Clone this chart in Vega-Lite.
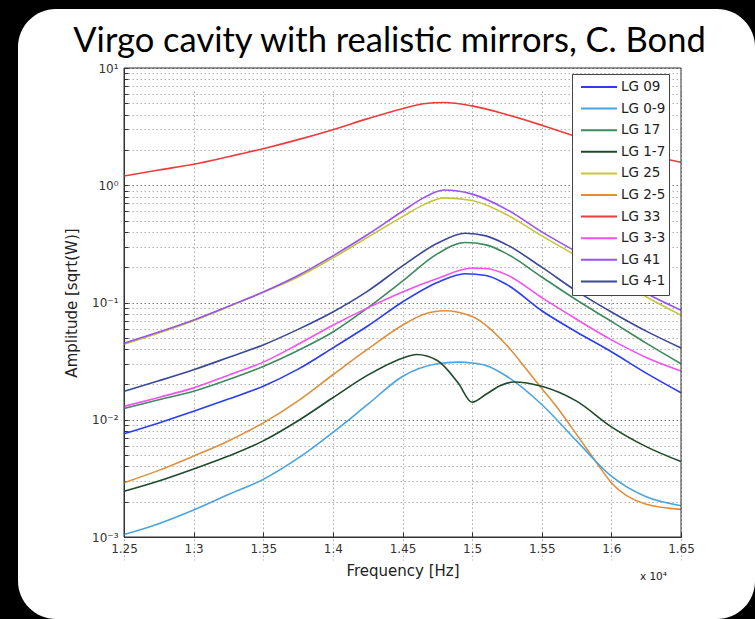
{
  "$schema": "https://vega.github.io/schema/vega-lite/v6.json",
  "autosize": {"type": "none"},
  "padding": {"left": 18, "top": 9, "right": 0, "bottom": 0},
  "width": 737,
  "height": 610,
  "background": "black",
  "title": {
    "text": "Virgo cavity with realistic mirrors, C. Bond",
    "font": "Lato",
    "fontSize": 34.5,
    "fontWeight": "normal",
    "color": "black",
    "anchor": "middle",
    "frame": "group",
    "baseline": "alphabetic",
    "offset": -77,
    "dx": 3
  },
  "datasets": {
    "curves": [
      {"f":1.25,"a":1.2,"s":"LG 33"},{"f":1.275,"a":1.35,"s":"LG 33"},{"f":1.3,"a":1.51,"s":"LG 33"},{"f":1.325,"a":1.75,"s":"LG 33"},{"f":1.35,"a":2.05,"s":"LG 33"},{"f":1.375,"a":2.45,"s":"LG 33"},{"f":1.4,"a":2.98,"s":"LG 33"},{"f":1.425,"a":3.7,"s":"LG 33"},{"f":1.45,"a":4.5,"s":"LG 33"},{"f":1.465,"a":4.95,"s":"LG 33"},{"f":1.48,"a":5.08,"s":"LG 33"},{"f":1.5,"a":4.75,"s":"LG 33"},{"f":1.525,"a":4.0,"s":"LG 33"},{"f":1.55,"a":3.25,"s":"LG 33"},{"f":1.575,"a":2.6,"s":"LG 33"},{"f":1.6,"a":2.15,"s":"LG 33"},{"f":1.625,"a":1.82,"s":"LG 33"},{"f":1.65,"a":1.57,"s":"LG 33"},
      {"f":1.25,"a":0.044,"s":"LG 25"},{"f":1.275,"a":0.055,"s":"LG 25"},{"f":1.3,"a":0.07,"s":"LG 25"},{"f":1.325,"a":0.092,"s":"LG 25"},{"f":1.35,"a":0.122,"s":"LG 25"},{"f":1.375,"a":0.165,"s":"LG 25"},{"f":1.4,"a":0.24,"s":"LG 25"},{"f":1.425,"a":0.36,"s":"LG 25"},{"f":1.45,"a":0.54,"s":"LG 25"},{"f":1.465,"a":0.68,"s":"LG 25"},{"f":1.48,"a":0.78,"s":"LG 25"},{"f":1.5,"a":0.74,"s":"LG 25"},{"f":1.525,"a":0.56,"s":"LG 25"},{"f":1.55,"a":0.37,"s":"LG 25"},{"f":1.575,"a":0.25,"s":"LG 25"},{"f":1.6,"a":0.17,"s":"LG 25"},{"f":1.625,"a":0.112,"s":"LG 25"},{"f":1.65,"a":0.078,"s":"LG 25"},
      {"f":1.25,"a":0.045,"s":"LG 41"},{"f":1.275,"a":0.056,"s":"LG 41"},{"f":1.3,"a":0.071,"s":"LG 41"},{"f":1.325,"a":0.093,"s":"LG 41"},{"f":1.35,"a":0.123,"s":"LG 41"},{"f":1.375,"a":0.17,"s":"LG 41"},{"f":1.4,"a":0.25,"s":"LG 41"},{"f":1.425,"a":0.38,"s":"LG 41"},{"f":1.45,"a":0.6,"s":"LG 41"},{"f":1.465,"a":0.78,"s":"LG 41"},{"f":1.48,"a":0.91,"s":"LG 41"},{"f":1.5,"a":0.84,"s":"LG 41"},{"f":1.525,"a":0.62,"s":"LG 41"},{"f":1.55,"a":0.4,"s":"LG 41"},{"f":1.575,"a":0.27,"s":"LG 41"},{"f":1.6,"a":0.18,"s":"LG 41"},{"f":1.625,"a":0.12,"s":"LG 41"},{"f":1.65,"a":0.086,"s":"LG 41"},
      {"f":1.25,"a":0.0175,"s":"LG 4-1"},{"f":1.275,"a":0.0215,"s":"LG 4-1"},{"f":1.3,"a":0.0267,"s":"LG 4-1"},{"f":1.325,"a":0.034,"s":"LG 4-1"},{"f":1.35,"a":0.0435,"s":"LG 4-1"},{"f":1.375,"a":0.059,"s":"LG 4-1"},{"f":1.4,"a":0.083,"s":"LG 4-1"},{"f":1.425,"a":0.125,"s":"LG 4-1"},{"f":1.45,"a":0.205,"s":"LG 4-1"},{"f":1.475,"a":0.32,"s":"LG 4-1"},{"f":1.495,"a":0.39,"s":"LG 4-1"},{"f":1.51,"a":0.37,"s":"LG 4-1"},{"f":1.525,"a":0.31,"s":"LG 4-1"},{"f":1.55,"a":0.2,"s":"LG 4-1"},{"f":1.575,"a":0.125,"s":"LG 4-1"},{"f":1.6,"a":0.083,"s":"LG 4-1"},{"f":1.625,"a":0.057,"s":"LG 4-1"},{"f":1.65,"a":0.041,"s":"LG 4-1"},
      {"f":1.25,"a":0.0125,"s":"LG 17"},{"f":1.275,"a":0.0148,"s":"LG 17"},{"f":1.3,"a":0.0175,"s":"LG 17"},{"f":1.325,"a":0.022,"s":"LG 17"},{"f":1.35,"a":0.0285,"s":"LG 17"},{"f":1.375,"a":0.039,"s":"LG 17"},{"f":1.4,"a":0.056,"s":"LG 17"},{"f":1.425,"a":0.09,"s":"LG 17"},{"f":1.45,"a":0.152,"s":"LG 17"},{"f":1.475,"a":0.26,"s":"LG 17"},{"f":1.495,"a":0.325,"s":"LG 17"},{"f":1.51,"a":0.31,"s":"LG 17"},{"f":1.525,"a":0.26,"s":"LG 17"},{"f":1.55,"a":0.165,"s":"LG 17"},{"f":1.575,"a":0.105,"s":"LG 17"},{"f":1.6,"a":0.069,"s":"LG 17"},{"f":1.625,"a":0.045,"s":"LG 17"},{"f":1.65,"a":0.03,"s":"LG 17"},
      {"f":1.25,"a":0.013,"s":"LG 3-3"},{"f":1.275,"a":0.0155,"s":"LG 3-3"},{"f":1.3,"a":0.0187,"s":"LG 3-3"},{"f":1.325,"a":0.024,"s":"LG 3-3"},{"f":1.35,"a":0.031,"s":"LG 3-3"},{"f":1.375,"a":0.044,"s":"LG 3-3"},{"f":1.4,"a":0.064,"s":"LG 3-3"},{"f":1.425,"a":0.09,"s":"LG 3-3"},{"f":1.45,"a":0.123,"s":"LG 3-3"},{"f":1.475,"a":0.16,"s":"LG 3-3"},{"f":1.5,"a":0.197,"s":"LG 3-3"},{"f":1.51,"a":0.195,"s":"LG 3-3"},{"f":1.525,"a":0.172,"s":"LG 3-3"},{"f":1.55,"a":0.11,"s":"LG 3-3"},{"f":1.575,"a":0.072,"s":"LG 3-3"},{"f":1.6,"a":0.048,"s":"LG 3-3"},{"f":1.625,"a":0.034,"s":"LG 3-3"},{"f":1.65,"a":0.026,"s":"LG 3-3"},
      {"f":1.25,"a":0.0076,"s":"LG 09"},{"f":1.275,"a":0.0094,"s":"LG 09"},{"f":1.3,"a":0.0118,"s":"LG 09"},{"f":1.325,"a":0.015,"s":"LG 09"},{"f":1.35,"a":0.0193,"s":"LG 09"},{"f":1.375,"a":0.027,"s":"LG 09"},{"f":1.4,"a":0.041,"s":"LG 09"},{"f":1.425,"a":0.063,"s":"LG 09"},{"f":1.45,"a":0.101,"s":"LG 09"},{"f":1.475,"a":0.148,"s":"LG 09"},{"f":1.495,"a":0.176,"s":"LG 09"},{"f":1.51,"a":0.17,"s":"LG 09"},{"f":1.525,"a":0.142,"s":"LG 09"},{"f":1.55,"a":0.085,"s":"LG 09"},{"f":1.575,"a":0.056,"s":"LG 09"},{"f":1.6,"a":0.038,"s":"LG 09"},{"f":1.625,"a":0.025,"s":"LG 09"},{"f":1.65,"a":0.017,"s":"LG 09"},
      {"f":1.25,"a":0.0029,"s":"LG 2-5"},{"f":1.275,"a":0.0037,"s":"LG 2-5"},{"f":1.3,"a":0.0049,"s":"LG 2-5"},{"f":1.325,"a":0.0066,"s":"LG 2-5"},{"f":1.35,"a":0.0094,"s":"LG 2-5"},{"f":1.375,"a":0.0145,"s":"LG 2-5"},{"f":1.4,"a":0.0242,"s":"LG 2-5"},{"f":1.425,"a":0.04,"s":"LG 2-5"},{"f":1.45,"a":0.064,"s":"LG 2-5"},{"f":1.465,"a":0.079,"s":"LG 2-5"},{"f":1.48,"a":0.085,"s":"LG 2-5"},{"f":1.5,"a":0.076,"s":"LG 2-5"},{"f":1.525,"a":0.043,"s":"LG 2-5"},{"f":1.54,"a":0.026,"s":"LG 2-5"},{"f":1.55,"a":0.0185,"s":"LG 2-5"},{"f":1.56,"a":0.0132,"s":"LG 2-5"},{"f":1.575,"a":0.0075,"s":"LG 2-5"},{"f":1.59,"a":0.0042,"s":"LG 2-5"},{"f":1.6,"a":0.0029,"s":"LG 2-5"},{"f":1.625,"a":0.0019,"s":"LG 2-5"},{"f":1.65,"a":0.00172,"s":"LG 2-5"},
      {"f":1.25,"a":0.00105,"s":"LG 0-9"},{"f":1.275,"a":0.0013,"s":"LG 0-9"},{"f":1.3,"a":0.0017,"s":"LG 0-9"},{"f":1.325,"a":0.0023,"s":"LG 0-9"},{"f":1.35,"a":0.0031,"s":"LG 0-9"},{"f":1.375,"a":0.0047,"s":"LG 0-9"},{"f":1.4,"a":0.0078,"s":"LG 0-9"},{"f":1.425,"a":0.0135,"s":"LG 0-9"},{"f":1.45,"a":0.0234,"s":"LG 0-9"},{"f":1.475,"a":0.03,"s":"LG 0-9"},{"f":1.49,"a":0.031,"s":"LG 0-9"},{"f":1.5,"a":0.0305,"s":"LG 0-9"},{"f":1.51,"a":0.029,"s":"LG 0-9"},{"f":1.525,"a":0.0234,"s":"LG 0-9"},{"f":1.55,"a":0.0135,"s":"LG 0-9"},{"f":1.575,"a":0.0066,"s":"LG 0-9"},{"f":1.6,"a":0.0033,"s":"LG 0-9"},{"f":1.625,"a":0.0022,"s":"LG 0-9"},{"f":1.65,"a":0.00185,"s":"LG 0-9"},
      {"f":1.25,"a":0.00245,"s":"LG 1-7"},{"f":1.275,"a":0.003,"s":"LG 1-7"},{"f":1.3,"a":0.0038,"s":"LG 1-7"},{"f":1.325,"a":0.0049,"s":"LG 1-7"},{"f":1.35,"a":0.0066,"s":"LG 1-7"},{"f":1.375,"a":0.0098,"s":"LG 1-7"},{"f":1.4,"a":0.0154,"s":"LG 1-7"},{"f":1.425,"a":0.024,"s":"LG 1-7"},{"f":1.45,"a":0.0335,"s":"LG 1-7"},{"f":1.46,"a":0.036,"s":"LG 1-7"},{"f":1.475,"a":0.032,"s":"LG 1-7"},{"f":1.49,"a":0.0206,"s":"LG 1-7"},{"f":1.5,"a":0.0141,"s":"LG 1-7"},{"f":1.51,"a":0.0165,"s":"LG 1-7"},{"f":1.52,"a":0.0195,"s":"LG 1-7"},{"f":1.53,"a":0.021,"s":"LG 1-7"},{"f":1.55,"a":0.0193,"s":"LG 1-7"},{"f":1.575,"a":0.0144,"s":"LG 1-7"},{"f":1.6,"a":0.0087,"s":"LG 1-7"},{"f":1.625,"a":0.0059,"s":"LG 1-7"},{"f":1.65,"a":0.0044,"s":"LG 1-7"}
    ],
    "frame": [{"f": 1.25, "f2": 1.65, "a": 0.001, "a2": 10}],
    "note": [{"f": 1.65, "a": 0.001, "t": "x 10⁴"}]
  },
  "encoding": {
    "x": {
      "field": "f",
      "type": "quantitative",
      "scale": {"domain": [1.25, 1.65], "range": [106, 663], "nice": false, "zero": false},
      "axis": {
        "title": "Frequency [Hz]",
        "values": [1.25, 1.3, 1.35, 1.4, 1.45, 1.5, 1.55, 1.6, 1.65],
        "format": "~g",
        "offset": -82,
        "ticks": true,
        "tickSize": -5,
        "tickColor": "#333",
        "labelPadding": 11,
        "labelFont": "DejaVu Sans",
        "labelFontSize": 12,
        "labelColor": "#333",
        "labelFlush": false,
        "labelOverlap": false,
        "domainColor": "#333",
        "grid": true,
        "gridColor": "#aaa",
        "gridDash": [1.5, 2.5],
        "titleFont": "DejaVu Sans",
        "titleFontSize": 15,
        "titleFontWeight": "normal",
        "titleColor": "#222",
        "titlePadding": 9
      }
    },
    "y": {
      "field": "a",
      "type": "quantitative",
      "scale": {"type": "log", "domain": [0.001, 10], "range": [528, 59], "nice": false},
      "axis": {
        "title": "Amplitude [sqrt(W)]",
        "values": [0.001,0.002,0.003,0.004,0.005,0.006,0.007,0.008,0.009,0.01,0.02,0.03,0.04,0.05,0.06,0.07,0.08,0.09,0.1,0.2,0.3,0.4,0.5,0.6,0.7,0.8,0.9,1,2,3,4,5,6,7,8,9,10],
        "labelExpr": "datum.value == 10 ? '10¹' : datum.value == 1 ? '10⁰' : datum.value == 0.1 ? '10⁻¹' : datum.value == 0.01 ? '10⁻²' : datum.value == 0.001 ? '10⁻³' : ''",
        "offset": -106,
        "ticks": true,
        "tickSize": -4,
        "tickColor": "#333",
        "labelPadding": 10,
        "labelFont": "DejaVu Sans",
        "labelFontSize": 12,
        "labelColor": "#333",
        "labelFlush": false,
        "labelOverlap": false,
        "domainColor": "#333",
        "grid": true,
        "gridColor": {"condition": {"test": "indexof([0.001, 0.01, 0.1, 1, 10], datum.value) >= 0", "value": "#777"}, "value": "#b0b0b0"},
        "gridDash": [1.5, 2.5],
        "titleFont": "DejaVu Sans",
        "titleFontSize": 15,
        "titleFontWeight": "normal",
        "titleColor": "#222",
        "titlePadding": 12
      }
    }
  },
  "layer": [
    {
      "data": {"name": "curves"},
      "mark": {"type": "line", "strokeWidth": 1.6, "interpolate": "monotone"},
      "encoding": {
        "color": {
          "field": "s",
          "type": "nominal",
          "scale": {
            "domain": ["LG 09","LG 0-9","LG 17","LG 1-7","LG 25","LG 2-5","LG 33","LG 3-3","LG 41","LG 4-1"],
            "range": ["#2a3cf5","#4aa3df","#3e8a5c","#1e4a2c","#c6c53a","#df8f3c","#ee3b3b","#ef52ef","#9a52ee","#3a4896"]
          },
          "legend": {
            "orient": "none",
            "legendX": 554,
            "legendY": 65,
            "title": null,
            "symbolType": "stroke",
            "symbolSize": 1296,
            "symbolStrokeWidth": 2,
            "clipHeight": 20,
            "rowPadding": 1.6,
            "padding": 3,
            "symbolOffset": 5,
            "labelOffset": 3,
            "labelFont": "DejaVu Sans",
            "labelFontSize": 13.5,
            "labelColor": "#222",
            "fillColor": "white",
            "strokeColor": "#444"
          }
        }
      }
    },
    {
      "data": {"name": "frame"},
      "mark": {"type": "rect", "filled": false, "stroke": "#333", "strokeWidth": 1},
      "encoding": {
        "x2": {"field": "f2"},
        "y2": {"field": "a2"}
      }
    },
    {
      "data": {"name": "note"},
      "mark": {"type": "text", "align": "right", "baseline": "middle", "dx": -14, "dy": 40, "font": "DejaVu Sans", "fontSize": 10.5, "color": "#222"},
      "encoding": {
        "text": {"field": "t"}
      }
    }
  ],
  "config": {
    "view": {"fill": "white", "cornerRadius": 38, "stroke": null}
  }
}
